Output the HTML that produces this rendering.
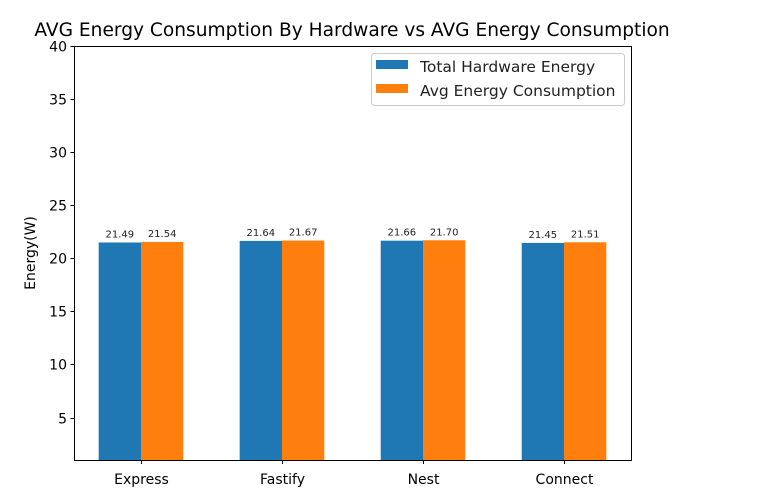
<!DOCTYPE html>
<html><head><meta charset="utf-8"><style>
body{margin:0;background:#fff;}
svg{display:block;font-family:"DejaVu Sans","Liberation Sans",sans-serif;}
</style></head><body>
<svg id="chart" width="763" height="492">
<text x="352" y="36" text-anchor="middle" font-size="18.6" fill="#000">AVG Energy Consumption By Hardware vs AVG Energy Consumption</text>
<g id="bars"></g>
<g id="axes"></g>
<text transform="translate(35,253) rotate(-90)" text-anchor="middle" font-size="14" fill="#000">Energy(W)</text>
<g>
<rect x="371.5" y="53.5" width="253" height="52" rx="3" fill="#fff" stroke="#ccc"/>
<rect x="376" y="60" width="32" height="9" fill="#1f77b4"/>
<text x="420" y="72" font-size="15.5" fill="#222">Total Hardware Energy</text>
<rect x="376" y="84" width="32" height="9" fill="#ff7f0e"/>
<text x="420" y="96" font-size="15.5" fill="#222">Avg Energy Consumption</text>
</g>
</svg>
<script>
const categories=["Express","Fastify","Nest","Connect"];
const hardwareValues=[21.49,21.64,21.66,21.45];
const avgValues=[21.54,21.67,21.70,21.51];
const yTicks=[5,10,15,20,25,30,35,40];
const NS="http://www.w3.org/2000/svg";
const L=74,R=631,T=46,B=460,yMin=1,yMax=40,xMin=-0.475,xMax=3.475;
const y=v=>T+(yMax-v)/(yMax-yMin)*(B-T);
const x=i=>L+(i-xMin)/(xMax-xMin)*(R-L);
const bw=0.3*(R-L)/(xMax-xMin);
function mk(tag,attrs,parent){const e=document.createElementNS(NS,tag);for(const k in attrs)e.setAttribute(k,attrs[k]);parent.appendChild(e);return e;}
const bars=document.getElementById('bars'),axes=document.getElementById('axes');
[[hardwareValues,'#1f77b4',-1,'hardware'],[avgValues,'#ff7f0e',0,'avg']].forEach(([vals,col,off,nm])=>{
 vals.forEach((v,i)=>{
  const x0=x(i)+off*bw;
  const r=mk('rect',{x:x0,y:y(v),width:bw,height:B-y(v),fill:col},bars);
  
  
  const t=mk('text',{x:x0+bw/2,y:y(v)-5,'text-anchor':'middle','font-size':'10',fill:'#222'},bars);
  t.textContent=v.toFixed(2);
  
  
 });
});
const fr=mk('rect',{x:L+0.5,y:T+0.5,width:R-L,height:B-T,fill:'none',stroke:'#000','stroke-width':1},axes);


yTicks.forEach(v=>{
 const yy=Math.round(y(v))+0.5;
 mk('line',{x1:L-3.5,x2:L,y1:yy,y2:yy,stroke:'#000'},axes);
 const t=mk('text',{x:L-7,y:yy+5,'text-anchor':'end','font-size':'14',fill:'#000'},axes);
 t.textContent=v;
 
 
});
categories.forEach((c,i)=>{
 const xx=Math.round(x(i))+0.5;
 mk('line',{x1:xx,x2:xx,y1:B+0.5,y2:B+4,stroke:'#000'},axes);
 const t=mk('text',{x:xx,y:B+24,'text-anchor':'middle','font-size':'14',fill:'#000'},axes);
 t.textContent=c;
 
 
});
</script>
</body></html>
